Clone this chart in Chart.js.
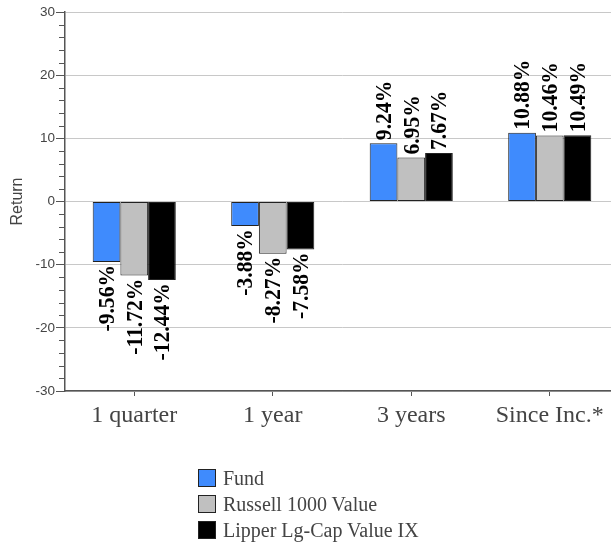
<!DOCTYPE html>
<html>
<head>
<meta charset="utf-8">
<script src="https://cdn.jsdelivr.net/npm/chart.js@4.4.0/dist/chart.umd.min.js"></script>
<style>
  html, body { margin: 0; padding: 0; background: #fff; overflow: hidden; width: 611px; height: 544px; }
  #wrap { position: relative; width: 611px; height: 544px; overflow: hidden; }
  #c { position: absolute; left: 0; top: 0; }
  #legend { position: absolute; left: 198px; top: 465px; font-family: "Liberation Serif", "Times New Roman", serif; font-size: 20px; color: #444; }
  .item { display: flex; align-items: center; height: 26px; white-space: nowrap; }
  .sw { width: 18px; height: 18px; border: 1px solid #222; box-sizing: border-box; margin-right: 7px; }
</style>
</head>
<body>
<div id="wrap">
  <canvas id="c" width="619" height="544" style="width:619px;height:544px"></canvas>
  <div id="legend"></div>
</div>
<script>
// Period returns (%)
const categories = ['1 quarter', '1 year', '3 years', 'Since Inc.*'];
const seriesNames = ['Fund', 'Russell 1000 Value', 'Lipper Lg-Cap Value IX'];
const fundReturns = [-9.56, -3.88, 9.24, 10.88];
const russellReturns = [-11.72, -8.27, 6.95, 10.46];
const lipperReturns = [-12.44, -7.58, 7.67, 10.49];
const yMin = -30, yMax = 30, yMajorStep = 10, yMinorStep = 2;
const seriesColors = ['#3f8bfd', '#c0c0c0', '#000000'];

const seriesValues = [fundReturns, russellReturns, lipperReturns];

// Short tick marks between the labelled y values
const minorTicks = {
  id: 'minorTicks',
  afterDraw(chart) {
    const y = chart.scales.y;
    const ctx = chart.ctx;
    const x0 = chart.chartArea.left;
    ctx.save();
    ctx.strokeStyle = '#555';
    ctx.lineWidth = 1;
    for (let v = yMin; v <= yMax; v += yMinorStep) {
      if (v % yMajorStep === 0) continue;
      const py = Math.round(y.getPixelForValue(v)) + 0.5;
      ctx.beginPath();
      ctx.moveTo(x0 - 6, py);
      ctx.lineTo(x0, py);
      ctx.stroke();
    }
    ctx.restore();
  }
};

// Vertical value labels at the end of each bar (slightly condensed bold serif)
const barValueLabels = {
  id: 'barValueLabels',
  afterDatasetsDraw(chart) {
    const ctx = chart.ctx;
    ctx.save();
    ctx.font = 'bold 23px "Liberation Serif", "Times New Roman", serif';
    ctx.fillStyle = '#000';
    ctx.textBaseline = 'middle';
    chart.data.datasets.forEach((ds, di) => {
      const meta = chart.getDatasetMeta(di);
      meta.data.forEach((bar, i) => {
        const v = ds.data[i];
        const text = v.toFixed(2) + '%';
        const gap = 3;
        ctx.save();
        ctx.translate(bar.x + 1.5, v >= 0 ? bar.y - gap : bar.y + gap);
        ctx.rotate(-Math.PI / 2);
        ctx.scale(0.94, 1);
        ctx.textAlign = v >= 0 ? 'left' : 'right';
        ctx.fillText(text, 0, 0);
        ctx.restore();
      });
    });
    ctx.restore();
  }
};

const chart = new Chart(document.getElementById('c'), {
  type: 'bar',
  data: {
    labels: categories,
    datasets: seriesNames.map((name, k) => ({
      label: name,
      data: seriesValues[k],
      backgroundColor: seriesColors[k],
      borderColor: '#222',
      borderWidth: 1,
      borderSkipped: false,
      categoryPercentage: 0.6,
      barPercentage: 1.0
    }))
  },
  options: {
    responsive: false,
    animation: false,
    layout: { padding: { left: 0, right: 0, top: 12, bottom: 113 } },
    plugins: { legend: { display: false }, tooltip: { enabled: false } },
    scales: {
      x: {
        grid: { display: true, drawOnChartArea: false, offset: false, tickLength: 5, tickColor: '#555' },
        border: { color: '#555', width: 1.5 },
        ticks: {
          color: '#444',
          padding: 5,
          font: { family: '"Liberation Serif", "Times New Roman", serif', size: 24 },
          maxRotation: 0,
          autoSkip: false
        },
        afterFit(scale) { scale.height = 40; }
      },
      y: {
        min: yMin,
        max: yMax,
        ticks: {
          stepSize: yMajorStep,
          color: '#444',
          padding: 1,
          font: { family: '"Liberation Sans", Arial, sans-serif', size: 13.5 }
        },
        grid: { color: '#c8c8c8', lineWidth: 1, tickLength: 9, tickColor: '#555' },
        border: { color: '#555', width: 1.5 },
        title: {
          display: true,
          text: 'Return',
          color: '#444',
          padding: { top: 8, bottom: 0 },
          font: { family: '"Liberation Sans", Arial, sans-serif', size: 16 }
        },
        afterFit(scale) { scale.width = 65; }
      }
    }
  },
  plugins: [minorTicks, barValueLabels]
});

// Legend, one entry per line
const legend = document.getElementById('legend');
seriesNames.forEach((name, k) => {
  const row = document.createElement('div');
  row.className = 'item';
  const sw = document.createElement('span');
  sw.className = 'sw';
  sw.style.background = seriesColors[k];
  const label = document.createElement('span');
  label.textContent = name;
  row.appendChild(sw);
  row.appendChild(label);
  legend.appendChild(row);
});
</script>
</body>
</html>
